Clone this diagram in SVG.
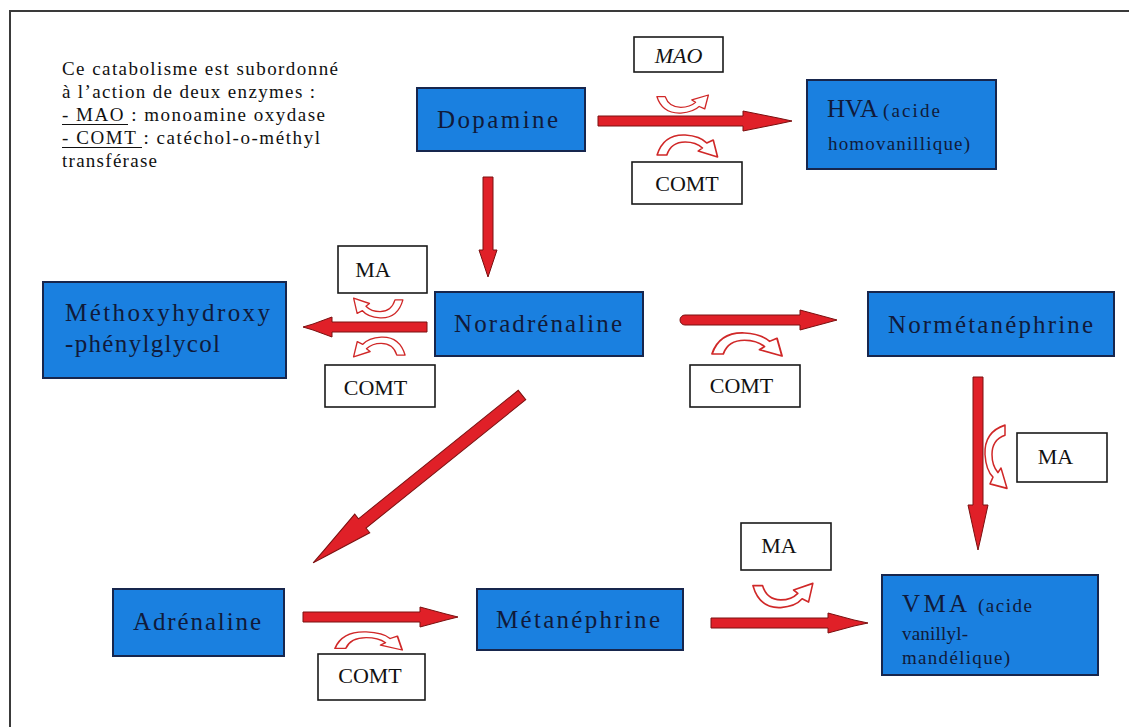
<svg xmlns="http://www.w3.org/2000/svg" xmlns:xlink="http://www.w3.org/1999/xlink" width="1129" height="727" viewBox="0 0 1129 727">
<style>
.bg{fill:#ffffff}
.frame{fill:none;stroke:#3a3a3a;stroke-width:2}
.node{fill:#1a80e0;stroke:#17264d;stroke-width:2}
.enz{fill:#ffffff;stroke:#1a1a1a;stroke-width:1.6}
.lbl{font-family:"Liberation Serif","Times New Roman",serif;font-size:25px;fill:#101a3a}
.small{font-family:"Liberation Serif","Times New Roman",serif;font-size:19px;fill:#101a3a}
.etxt{font-family:"Liberation Serif","Times New Roman",serif;font-size:22px;fill:#111111;text-anchor:middle}
.note{font-family:"Liberation Serif","Times New Roman",serif;font-size:19px;fill:#111111}
.uline{stroke:#111111;stroke-width:1.2}
.arrow{fill:#e02028;stroke:#7a1010;stroke-width:1}
.curl{fill:#ffffff;stroke:#d02828;stroke-width:1.5;stroke-linejoin:round}
</style>
<defs>
<path id="arch" d="M-30,9 Q-24,-12 -4,-11 Q10,-10 16,-3 L22,-6 L26,11 L8,5 L12,2 Q6,-4 -4,-4 Q-17,-4 -21,9 Z"/>
</defs>
<rect class="bg" x="0" y="0" width="1129" height="727"/>
<rect class="frame" x="10" y="11" width="1140" height="740"/>

<g id="note">
<text class="note" x="62" y="75" textLength="276" lengthAdjust="spacing">Ce catabolisme est subordonné</text>
<text class="note" x="62" y="98" textLength="253" lengthAdjust="spacing">à l’action de deux enzymes :</text>
<text class="note" x="62" y="121" textLength="263" lengthAdjust="spacing">- MAO : monoamine oxydase</text>
<text class="note" x="62" y="144" textLength="258" lengthAdjust="spacing">- COMT : catéchol-o-méthyl</text>
<text class="note" x="62" y="167" textLength="95" lengthAdjust="spacing">transférase</text>
<line class="uline" x1="62" y1="124.5" x2="128" y2="124.5"/>
<line class="uline" x1="62" y1="147.5" x2="142" y2="147.5"/>
</g>

<g id="connectors">
<path class="arrow" d="M598,116 L743,116 L743,111 L778,118 L792,121 L778,124 L743,131 L743,126 L598,126 Z"/>
<path class="arrow" d="M483,177 L493,177 L493,250 L497,250 L488,277 L479,250 L483,250 Z"/>
<path class="arrow" d="M427,322 L332,322 L332,317 L313,324 L303,327 L313,330 L332,337 L332,332 L427,332 Z"/>
<path class="arrow" d="M685,315 L800,315 L800,310 L826,317 L837,320 L826,323 L800,330 L800,325 L685,325 A5,5 0 0 1 685,315 Z"/>
<path class="arrow" d="M973,377 L983,377 L983,505 L988,505 L981,537 L978,550 L975,537 L968,505 L973,505 Z"/>
<path class="arrow" transform="translate(522,395) rotate(141.2)" d="M0,-6 L205,-6 L205,-12 L252,-3 L268,0 L252,3 L205,12 L205,6 L0,6 Z"/>
<path class="arrow" d="M303,612 L420,612 L420,607 L446,614 L458,617 L446,620 L420,627 L420,622 L303,622 Z"/>
<path class="arrow" d="M711,618 L828,618 L828,613 L854,620 L868,623 L854,626 L828,633 L828,628 L711,628 Z"/>
<use xlink:href="#arch" class="curl" transform="translate(684.5,104) scale(0.92,-0.82)"/>
<use xlink:href="#arch" class="curl" transform="translate(689.5,146) scale(1.08,1)"/>
<use xlink:href="#arch" class="curl" transform="translate(376.5,308) scale(-0.88,-0.9)"/>
<use xlink:href="#arch" class="curl" transform="translate(377.5,347) scale(-0.92,0.9)"/>
<use xlink:href="#arch" class="curl" transform="translate(749.5,344.5) scale(1.25,1.05)"/>
<use xlink:href="#arch" class="curl" transform="matrix(0,1.13,1,0,996,459)"/>
<use xlink:href="#arch" class="curl" transform="translate(371,641) scale(1.2,0.82)"/>
<use xlink:href="#arch" class="curl" transform="translate(785,595.5) scale(1.07,-1.1)"/>
</g>

<g id="dopamine">
<rect class="node" x="417" y="88" width="168" height="63"/>
<text class="lbl" x="497.5" y="128" text-anchor="middle" textLength="121" lengthAdjust="spacing">Dopamine</text>
</g>
<g id="hva">
<rect class="node" x="807" y="80" width="189" height="89"/>
<text class="lbl" x="827" y="117" textLength="51" lengthAdjust="spacing">HVA</text>
<text class="small" x="883" y="117" textLength="57" lengthAdjust="spacing">(acide</text>
<text class="small" x="828" y="150" textLength="142" lengthAdjust="spacing">homovanillique)</text>
</g>
<g id="noradrenaline">
<rect class="node" x="435" y="292" width="208" height="64"/>
<text class="lbl" x="538" y="332" text-anchor="middle" textLength="168" lengthAdjust="spacing">Noradrénaline</text>
</g>
<g id="methoxy">
<rect class="node" x="43" y="282" width="243" height="96"/>
<text class="lbl" x="65" y="321" textLength="205" lengthAdjust="spacing">Méthoxyhydroxy</text>
<text class="lbl" x="65" y="352" textLength="155" lengthAdjust="spacing">-phénylglycol</text>
</g>
<g id="normetanephrine">
<rect class="node" x="868" y="292" width="246" height="64"/>
<text class="lbl" x="990.5" y="333" text-anchor="middle" textLength="205" lengthAdjust="spacing">Normétanéphrine</text>
</g>
<g id="adrenaline">
<rect class="node" x="113" y="589" width="171" height="67"/>
<text class="lbl" x="197" y="630" text-anchor="middle" textLength="128" lengthAdjust="spacing">Adrénaline</text>
</g>
<g id="metanephrine">
<rect class="node" x="477" y="589" width="206" height="61"/>
<text class="lbl" x="578" y="628" text-anchor="middle" textLength="164" lengthAdjust="spacing">Métanéphrine</text>
</g>
<g id="vma">
<rect class="node" x="882" y="575" width="216" height="100"/>
<text class="lbl" x="902" y="612" textLength="65" lengthAdjust="spacing">VMA</text>
<text class="small" x="978" y="612" textLength="54" lengthAdjust="spacing">(acide</text>
<text class="small" x="902" y="640" textLength="66" lengthAdjust="spacing">vanillyl-</text>
<text class="small" x="902" y="664" textLength="108" lengthAdjust="spacing">mandélique)</text>
</g>

<g id="enz-mao-top">
<rect class="enz" x="634" y="37" width="89" height="35"/>
<text class="etxt" x="678.5" y="63" font-style="italic">MAO</text>
</g>
<g id="enz-comt-top">
<rect class="enz" x="632" y="162" width="110" height="42"/>
<text class="etxt" x="687" y="191">COMT</text>
</g>
<g id="enz-ma-left">
<rect class="enz" x="338" y="246" width="89" height="47"/>
<text class="etxt" x="373" y="277">MA</text>
</g>
<g id="enz-comt-left">
<rect class="enz" x="325" y="365" width="110" height="42"/>
<text class="etxt" x="375.5" y="395">COMT</text>
</g>
<g id="enz-comt-mid">
<rect class="enz" x="690" y="365" width="110" height="42"/>
<text class="etxt" x="741.5" y="393">COMT</text>
</g>
<g id="enz-ma-right">
<rect class="enz" x="1017" y="433" width="90" height="49"/>
<text class="etxt" x="1055.5" y="464">MA</text>
</g>
<g id="enz-ma-bottom">
<rect class="enz" x="741" y="523" width="90" height="47"/>
<text class="etxt" x="779" y="553">MA</text>
</g>
<g id="enz-comt-bottom">
<rect class="enz" x="318" y="654" width="107" height="46"/>
<text class="etxt" x="370" y="683">COMT</text>
</g>
</svg>
